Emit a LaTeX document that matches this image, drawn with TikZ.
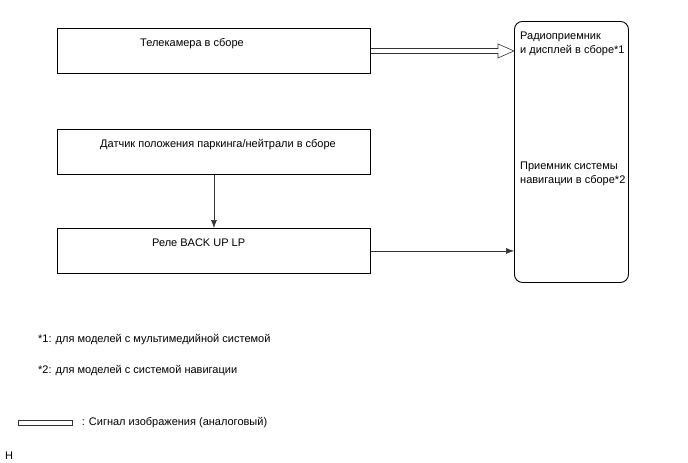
\documentclass[tikz,border=0pt]{standalone}
\usepackage{fontspec}
\setmainfont{Liberation Sans}
\usetikzlibrary{arrows.meta,positioning,calc}

\tikzset{
  blk/.style={draw, line width=0.9pt, minimum width=313pt, minimum height=45pt, inner sep=0pt, anchor=north west},
  unit/.style={draw, line width=0.9pt, rounded corners=8pt, minimum width=114pt, minimum height=261pt, inner sep=0pt, anchor=north west},
  txt/.style={anchor=base west, inner sep=0pt, align=left, font=\fontsize{11}{13.7}\selectfont},
  sig/.style={-{Latex[length=8pt,width=6pt]}, line width=0.6pt, black!80},
}

\begin{document}
\begin{tikzpicture}[x=1pt,y=-1pt]
  \useasboundingbox (0,0) rectangle (688,463);

  % blocks
  \node[blk] (cam) at (57,28) {};
  \node[blk] (park) at (57,129) {};
  \node[blk] (relay) at (57,228) {};
  \node[unit] (radio) at (514,21) {};

  % texts
  \node[txt] (camtxt) at (140,46) {Телекамера в сборе};
  \node[txt] (parktxt) at (100,147) {Датчик положения паркинга/нейтрали в сборе};
  \node[txt] (relaytxt) at (152,246) {Реле BACK UP LP};
  \node[txt] (radiotxt) at (520,53.5) {Радиоприемник\\и дисплей в сборе*1};
  \node[txt] (navitxt) at (520,183.5) {Приемник системы\\навигации в сборе*2};

  % video signal
  \coordinate (tip) at (radio.west |- cam.east);
  \draw[line width=0.6pt, black!80]
    ($(cam.east)+(0,-2.5)$) -- ($(tip)+(-16,-2.5)$) -- ($(tip)+(-16,-7)$) -- (tip)
    -- ($(tip)+(-16,7)$) -- ($(tip)+(-16,2.5)$) -- ($(cam.east)+(0,2.5)$);

  % wires
  \draw[sig] (park.south) -- (relay.north);
  \draw[sig] (relay.east) -- (relay.east -| radio.west);

  % notes
  \node[txt] (note1) at (38,342.5) {*1: для моделей с мультимедийной системой};
  \node[txt] (note2) at (38,373.5) {*2: для моделей с системой навигации};
  \node[draw, line width=0.6pt, black!80, minimum width=54pt, minimum height=5pt, inner sep=0pt, anchor=west] (legbox) at (18,423) {};
  \node[txt, right=9pt of legbox] (legtxt) {: Сигнал изображения (аналоговый)};
  \node[txt] (mark) at (5,459) {H};
\end{tikzpicture}
\end{document}
